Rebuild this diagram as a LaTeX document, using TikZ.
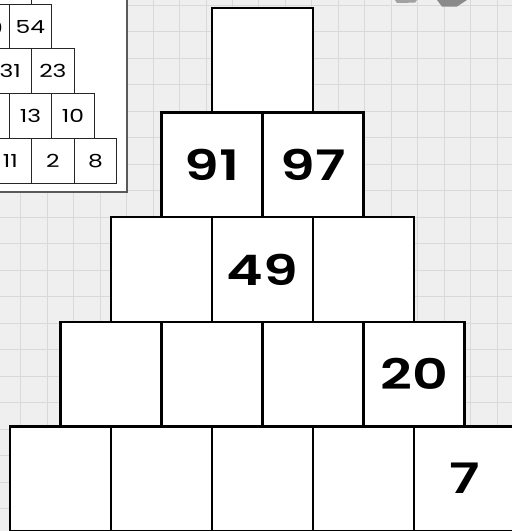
\documentclass[tikz,border=0pt]{standalone}
\usepackage{fontspec}
\setmainfont{Poppins}
\IfFontExistsTF{Poppins SemiBold}
  {\newfontfamily\numfont{Poppins SemiBold}[FakeStretch=1.32]}
  {\newfontfamily\numfont{Poppins}[FakeStretch=1.32, UprightFont=*-Bold]}
\newfontfamily\smallnumfont{Poppins}[FakeStretch=1.3]
\usetikzlibrary{positioning}
\definecolor{paper}{HTML}{EFEFEF}
\definecolor{gridgray}{HTML}{D9D9D9}
\definecolor{blockgray}{HTML}{8A8A8A}

\begin{document}
\begin{tikzpicture}[
    x=1pt, y=-1pt,
    cell/.style={rectangle, draw, line width=2.4pt, fill=white, minimum width=101pt, minimum height=104.6pt, inner sep=0pt, outer sep=0pt, font=\fontsize{42}{42}\numfont},
    minicell/.style={rectangle, draw=black!85, line width=0.9pt, fill=white, minimum width=42.6pt, minimum height=44.8pt, inner sep=0pt, outer sep=0pt, font=\fontsize{18}{18}\smallnumfont},
    gridline/.style={draw=gridgray, line width=0.7pt}
]
\useasboundingbox (0,0) rectangle (512,531);

% Paper and grid
\fill[paper] (0,0) rectangle (512,531);
\foreach \k in {0,...,18} {
  \draw[gridline] (20.7+26.46*\k,0) -- (20.7+26.46*\k,531);
}
\foreach \k in {0,...,19} {
  \draw[gridline] (0,5.2+26.5*\k) -- (512,5.2+26.5*\k);
}

% Object cut off at the top edge
\fill[blockgray!80] (395,0) -- (417,0) -- (415,2.6) -- (397,3) -- cycle;
\fill[blockgray] (437,0) -- (467,0) -- (457,6.5) -- (442,6.5) -- cycle;

% Small solved pyramid, top left
\fill[white, draw=black!65, line width=1.5pt] (-5,-5) rectangle (127,192);
\begin{scope}
\clip (0,0) rectangle (126,191);
\node[minicell] (ma1) at (10.3,-18.4) {};
\node[minicell] (mb1) at (-12.2,26.5) {};
\node[minicell, right=0pt of mb1] (mb2) {54};
\node[minicell] (mc1) at (10.3,71.3) {31};
\node[minicell, right=0pt of mc1] (mc2) {23};
\node[minicell] (md1) at (-12.2,116.1) {};
\node[minicell, right=0pt of md1] (md2) {13};
\node[minicell, right=0pt of md2] (md3) {10};
\node[minicell] (me1) at (10.3,160.9) {11};
\node[minicell, right=0pt of me1] (me2) {2};
\node[minicell, right=0pt of me2] (me3) {8};
\node[font=\fontsize{18}{18}\smallnumfont, inner sep=0pt] (mb1num) at (-4.5,28) {0};
\end{scope}

% Bottom row
\node[cell] (b1) at (60.5,478.7) {};
\node[cell, right=0pt of b1] (b2) {};
\node[cell, right=0pt of b2] (b3) {};
\node[cell, right=0pt of b3] (b4) {};
\node[cell, right=0pt of b4] (b5) {7};

% Fourth row
\node[cell] (r1) at (111,374.1) {};
\node[cell, right=0pt of r1] (r2) {};
\node[cell, right=0pt of r2] (r3) {};
\node[cell, right=0pt of r3] (r4) {20};

% Third row
\node[cell] (t1) at (161.5,269.5) {};
\node[cell, right=0pt of t1] (t2) {49};
\node[cell, right=0pt of t2] (t3) {};

% Second row
\node[cell] (s1) at (212,164.9) {91};
\node[cell, right=0pt of s1] (s2) {97};

% Top
\node[cell] (top) at (262.5,60.3) {};

\end{tikzpicture}
\end{document}
